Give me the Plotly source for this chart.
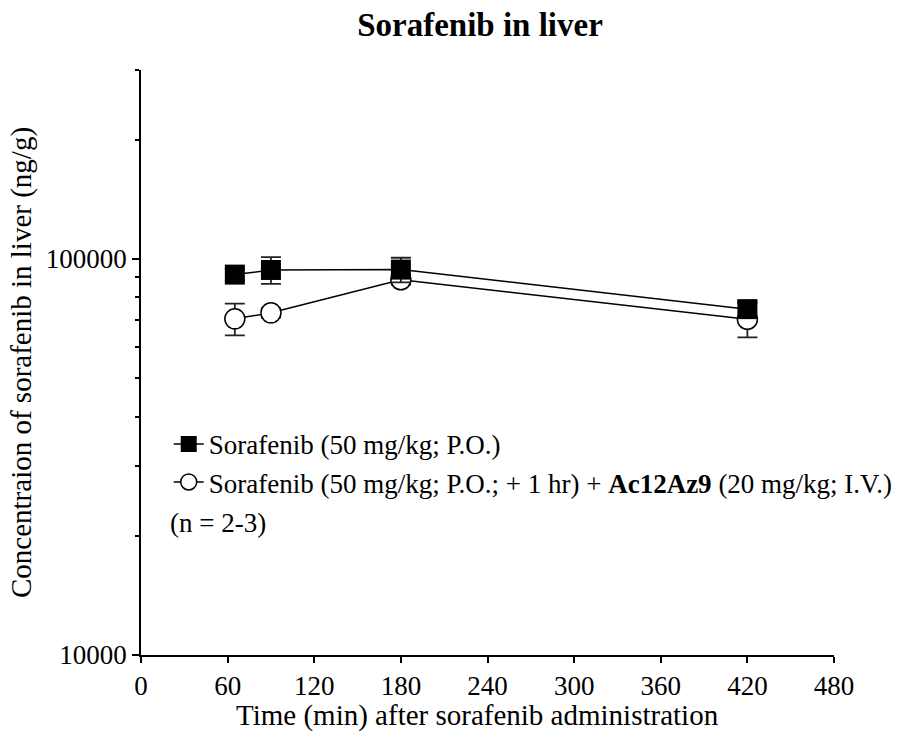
import plotly.graph_objects as go

# ---- data ----
time_min = [65, 90, 180, 420]
sorafenib_mean = [91300, 93800, 94000, 74700]
sorafenib_err = [3000, 7300, 6700, 3500]
combo_mean = [70600, 73100, 88600, 70400]
combo_err = [6500, 2000, 2500, 7000]

sorafenib_label = "Sorafenib (50 mg/kg; P.O.)"
combo_label = "Sorafenib (50 mg/kg; P.O.; + 1 hr) + <b>Ac12Az9</b> (20 mg/kg; I.V.)"
n_note = "(n = 2-3)"
x_title = "Time (min) after sorafenib administration"

x_ticks = [0, 60, 120, 180, 240, 300, 360, 420, 480]
y_major = [10000, 100000]
y_minor = [20000, 30000, 40000, 50000, 60000, 70000, 80000, 90000, 200000, 300000]

FONT = "Liberation Serif, Times New Roman, serif"

fig = go.Figure()

fig.add_trace(go.Scatter(
    x=time_min, y=combo_mean, name=combo_label, mode="lines+markers",
    line=dict(color="black", width=1.5),
    marker=dict(symbol="circle", size=20, color="white", line=dict(color="black", width=1.5)),
    error_y=dict(type="data", array=combo_err, visible=True, color="#222", thickness=1.8, width=10),
    legendrank=2, legendgroup="b",
))
fig.add_trace(go.Scatter(
    x=time_min, y=sorafenib_mean, name=sorafenib_label, mode="lines+markers",
    line=dict(color="black", width=1.5),
    marker=dict(symbol="square", size=20, color="black", line=dict(color="black", width=0)),
    error_y=dict(type="data", array=sorafenib_err, visible=True, color="#222", thickness=1.8, width=10),
    legendrank=1, legendgroup="a",
))

fig.add_annotation(
    text=n_note, xref="paper", yref="paper", x=0.039, y=0.225,
    xanchor="left", yanchor="middle", showarrow=False,
    font=dict(family=FONT, size=27, color="black"),
)
fig.add_annotation(
    text=x_title, xref="paper", yref="paper", x=(477 - 141) / 693, y=-(697 - 655) / 585,
    xanchor="center", yanchor="top", showarrow=False,
    font=dict(family=FONT, size=29, color="black"),
)

fig.update_layout(
    width=906, height=732,
    margin=dict(l=141, r=72, t=70, b=77, autoexpand=False),
    paper_bgcolor="white", plot_bgcolor="white",
    font=dict(family=FONT, size=27, color="black"),
    title=dict(text="<b>Sorafenib in liver</b>", x=480 / 906, xanchor="center",
               xref="container", y=1 - 24 / 732, yanchor="middle", yref="container",
               font=dict(family=FONT, size=33, color="black")),
    showlegend=True,
    legend=dict(x=0.04, y=0.402, xanchor="left", yanchor="top",
                bgcolor="rgba(0,0,0,0)", font=dict(family=FONT, size=27, color="black"),
                tracegroupgap=0, traceorder="grouped"),
    xaxis=dict(
        range=[0, 480], tickmode="array", tickvals=x_ticks,
        ticktext=[str(v) for v in x_ticks],
        showline=True, linecolor="black", linewidth=1.5,
        ticks="outside", ticklen=6, tickwidth=1.5, tickcolor="black",
        showgrid=False, zeroline=False,
        tickfont=dict(family=FONT, size=27, color="black"),
    ),
    yaxis=dict(
        type="log", range=[4, 5.47712],
        tickmode="array", tickvals=y_major, ticktext=[str(v) for v in y_major],
        showline=True, linecolor="black", linewidth=1.5,
        ticks="outside", ticklen=7, tickwidth=1.5, tickcolor="black",
        minor=dict(tickmode="array", tickvals=y_minor, ticks="outside", ticklen=4,
                   tickwidth=1.5, tickcolor="black", showgrid=False),
        showgrid=False, zeroline=False,
        tickfont=dict(family=FONT, size=27, color="black"),
        title=dict(text="Concentraion of sorafenib in liver (ng/g)",
                   font=dict(family=FONT, size=29, color="black"), standoff=6),
    ),
)

fig.write_html("out.html")
